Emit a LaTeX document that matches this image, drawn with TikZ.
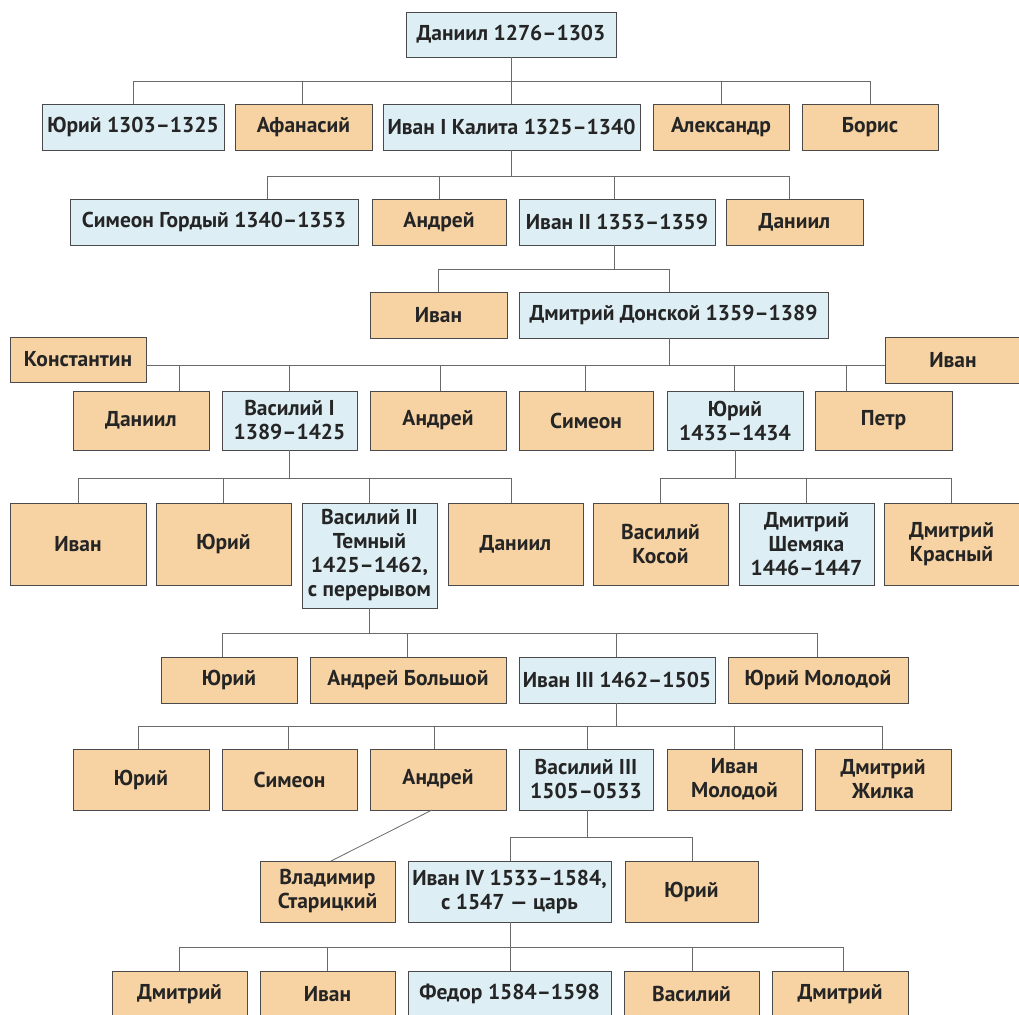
\documentclass[tikz,border=0pt]{standalone}
\usepackage{fontspec}
\setmainfont{PT Sans}
\definecolor{orfill}{HTML}{F7D3A3}
\definecolor{blfill}{HTML}{DDEFF5}
\definecolor{bordc}{HTML}{4A4A4A}
\definecolor{linec}{HTML}{6A6A6A}
\definecolor{txtc}{HTML}{252525}
\tikzset{
  base/.style={draw=bordc, line width=0.9pt, inner sep=0pt, outer sep=0pt, align=center,
    text=txtc, font=\fontsize{21.5}{24}\selectfont\bfseries},
  ob/.style={base, fill=orfill},
  bb/.style={base, fill=blfill},
  ln/.style={draw=linec, line width=0.8pt},
}
% \bx{style}{name}{cx}{cy}{w}{h}{text}
\newcommand\bx[7]{\node[#1, minimum width=#5pt, minimum height=#6pt] (#2) at (#3,#4) {#7};}
\newcommand\drop[3]{\draw[ln] ([xshift=#2pt]#1.north) -- ([xshift=#2pt]#1.north |- #3);}
\newcommand\up[2]{\draw[ln] (#1.south) -- (#1.south |- #2);}
\begin{document}
\begin{tikzpicture}[x=1pt,y=-1pt]
\useasboundingbox (0,0) rectangle (1019,1014);
\fill[white] (0,0) rectangle (1019,1014);
\clip (0,0) rectangle (1019,1014);
% row 0
\bx{bb}{r0}{511}{34.5}{210}{45}{Даниил 1276–1303}
% row 1
\bx{bb}{a1}{133}{127}{182}{46}{Юрий 1303–1325}
\bx{ob}{a2}{303.5}{127}{137}{46}{Афанасий}
\bx{bb}{a3}{511.5}{127}{257}{46}{Иван I Калита 1325–1340}
\bx{ob}{a4}{721}{127}{136}{46}{Александр}
\bx{ob}{a5}{870}{127}{136}{46}{Борис}
% row 2
\bx{bb}{b1}{214}{222}{288}{46}{Симеон Гордый 1340–1353}
\bx{ob}{b2}{439}{222}{134}{46}{Андрей}
\bx{bb}{b3}{617}{222}{196}{46}{Иван II 1353–1359}
\bx{ob}{b4}{794.5}{222}{137}{46}{Даниил}
% row 3
\bx{ob}{c1}{438.5}{315}{137}{46}{Иван}
\bx{bb}{c2}{673.5}{315}{309}{46}{Дмитрий Донской 1359–1389}
\bx{ob}{k1}{78}{359.5}{136}{45}{Константин}
\bx{ob}{k2}{953}{360}{136}{46}{Иван}
% row 4
\bx{ob}{d1}{141}{420.5}{136}{59}{Даниил}
\bx{bb}{d2}{289.5}{420.5}{135}{59}{Василий I\\1389–1425}
\bx{ob}{d3}{438}{420.5}{136}{59}{Андрей}
\bx{ob}{d4}{586}{420.5}{134}{59}{Симеон}
\bx{bb}{d5}{735}{420.5}{136}{59}{Юрий\\1433–1434}
\bx{ob}{d6}{883.5}{420.5}{137}{59}{Петр}
% row 5
\bx{ob}{e1}{78}{544}{136}{82}{Иван}
\bx{ob}{e2}{223.5}{544}{135}{82}{Юрий}
\bx{bb}{e3}{369.5}{555.5}{135}{105}{Василий II\\Темный\\1425–1462,\\с перерывом}
\bx{ob}{e4}{515.5}{544}{135}{82}{Даниил}
\bx{ob}{e5}{660.5}{544}{135}{82}{Василий\\Косой}
\bx{bb}{e6}{806.5}{544}{135}{82}{Дмитрий\\Шемяка\\1446–1447}
\bx{ob}{e7}{951.5}{544}{135}{82}{Дмитрий\\Красный}
% row 6
\bx{ob}{f1}{229}{680}{136}{46}{Юрий}
\bx{ob}{f2}{408}{680}{196}{46}{Андрей Большой}
\bx{bb}{f3}{617}{680}{196}{46}{Иван III 1462–1505}
\bx{ob}{f4}{818}{680}{180}{46}{Юрий Молодой}
% row 7
\bx{ob}{g1}{141}{779.5}{136}{61}{Юрий}
\bx{ob}{g2}{289.5}{779.5}{135}{61}{Симеон}
\bx{ob}{g3}{438}{779.5}{136}{61}{Андрей}
\bx{bb}{g4}{586}{779.5}{134}{61}{Василий III\\1505–0533}
\bx{ob}{g5}{734.5}{779.5}{135}{61}{Иван\\Молодой}
\bx{ob}{g6}{883}{779.5}{136}{61}{Дмитрий\\Жилка}
% row 8
\bx{ob}{h1}{327.5}{891.5}{135}{61}{Владимир\\Старицкий}
\bx{bb}{h2}{509.5}{891.5}{203}{61}{Иван IV 1533–1584,\\с 1547 — царь}
\bx{ob}{h3}{691.5}{891.5}{133}{61}{Юрий}
% row 9
\bx{ob}{i1}{179.5}{994}{135}{46}{Дмитрий}
\bx{ob}{i2}{327.5}{994}{135}{46}{Иван}
\bx{bb}{i3}{509.5}{994}{203}{46}{Федор 1584–1598}
\bx{ob}{i4}{691.5}{994}{135}{46}{Василий}
\bx{ob}{i5}{840}{994}{136}{46}{Дмитрий}
% bars
\coordinate (B0) at (0,81);
\coordinate (B1) at (0,176);
\coordinate (B2) at (0,269);
\coordinate (B3) at (0,365);
\coordinate (B4) at (0,478);
\coordinate (B5) at (0,633);
\coordinate (B6) at (0,726);
\coordinate (B7) at (0,837);
\coordinate (B8) at (0,947);
% family of r0
\up{r0}{B0}
\draw[ln] (a1.north |- B0) -- (a5.north |- B0);
\drop{a1}{0}{B0}\drop{a2}{-1}{B0}\drop{a3}{0}{B0}\drop{a4}{0}{B0}\drop{a5}{0}{B0}
% family of a3
\up{a3}{B1}
\draw[ln] ([xshift=53pt]b1.north |- B1) -- ([xshift=-5pt]b4.north |- B1);
\drop{b1}{53}{B1}\drop{b2}{0}{B1}\drop{b3}{-3}{B1}\drop{b4}{-5}{B1}
% family of b3
\draw[ln] ([xshift=-3pt]b3.south) -- ([xshift=-3pt]b3.south |- B2);
\draw[ln] (c1.north |- B2) -- ([xshift=-4pt]c2.north |- B2);
\drop{c1}{0}{B2}\drop{c2}{-4}{B2}
% family of c2
\draw[ln] ([xshift=-4pt]c2.south) -- ([xshift=-4pt]c2.south |- B3);
\draw[ln] (k1.east |- B3) -- (k2.west |- B3);
\drop{d1}{38}{B3}\drop{d2}{0}{B3}\drop{d3}{2}{B3}\drop{d4}{-1}{B3}\drop{d5}{-1}{B3}\drop{d6}{-37.5}{B3}
% family of d2
\up{d2}{B4}
\draw[ln] (e1.north |- B4) -- ([xshift=-4pt]e4.north |- B4);
\drop{e1}{0}{B4}\drop{e2}{0}{B4}\drop{e3}{0}{B4}\drop{e4}{-4}{B4}
% family of d5
\up{d5}{B4}
\draw[ln] (e5.north |- B4) -- (e7.north |- B4);
\drop{e5}{0}{B4}\drop{e6}{0}{B4}\drop{e7}{0}{B4}
% family of e3
\up{e3}{B5}
\draw[ln] ([xshift=-7pt]f1.north |- B5) -- (f4.north |- B5);
\drop{f1}{-7}{B5}\drop{f2}{-1}{B5}\drop{f3}{-1}{B5}\drop{f4}{-1}{B5}
% family of f3
\draw[ln] ([xshift=-1pt]f3.south) -- ([xshift=-1pt]f3.south |- B6);
\draw[ln] ([xshift=-3pt]g1.north |- B6) -- (g6.north |- B6);
\drop{g1}{-3}{B6}\drop{g2}{-1}{B6}\drop{g3}{-4}{B6}\drop{g4}{1}{B6}\drop{g5}{0}{B6}\drop{g6}{-1}{B6}
% Андрей -> Владимир
\draw[ln] ([xshift=-6pt]g3.south) -- ([xshift=3.5pt]h1.north);
% family of g4
\draw[ln] ([xshift=1pt]g4.south) -- ([xshift=1pt]g4.south |- B7);
\draw[ln] ([xshift=1pt]h2.north |- B7) -- ([xshift=1pt]h3.north |- B7);
\drop{h2}{1}{B7}\drop{h3}{1}{B7}
% family of h2
\draw[ln] ([xshift=1pt]h2.south) -- ([xshift=1pt]h2.south |- B8);
\draw[ln] (i1.north |- B8) -- ([xshift=3pt]i5.north |- B8);
\drop{i1}{0}{B8}\drop{i2}{0}{B8}\drop{i3}{1}{B8}\drop{i4}{1}{B8}\drop{i5}{3}{B8}
\end{tikzpicture}
\end{document}
